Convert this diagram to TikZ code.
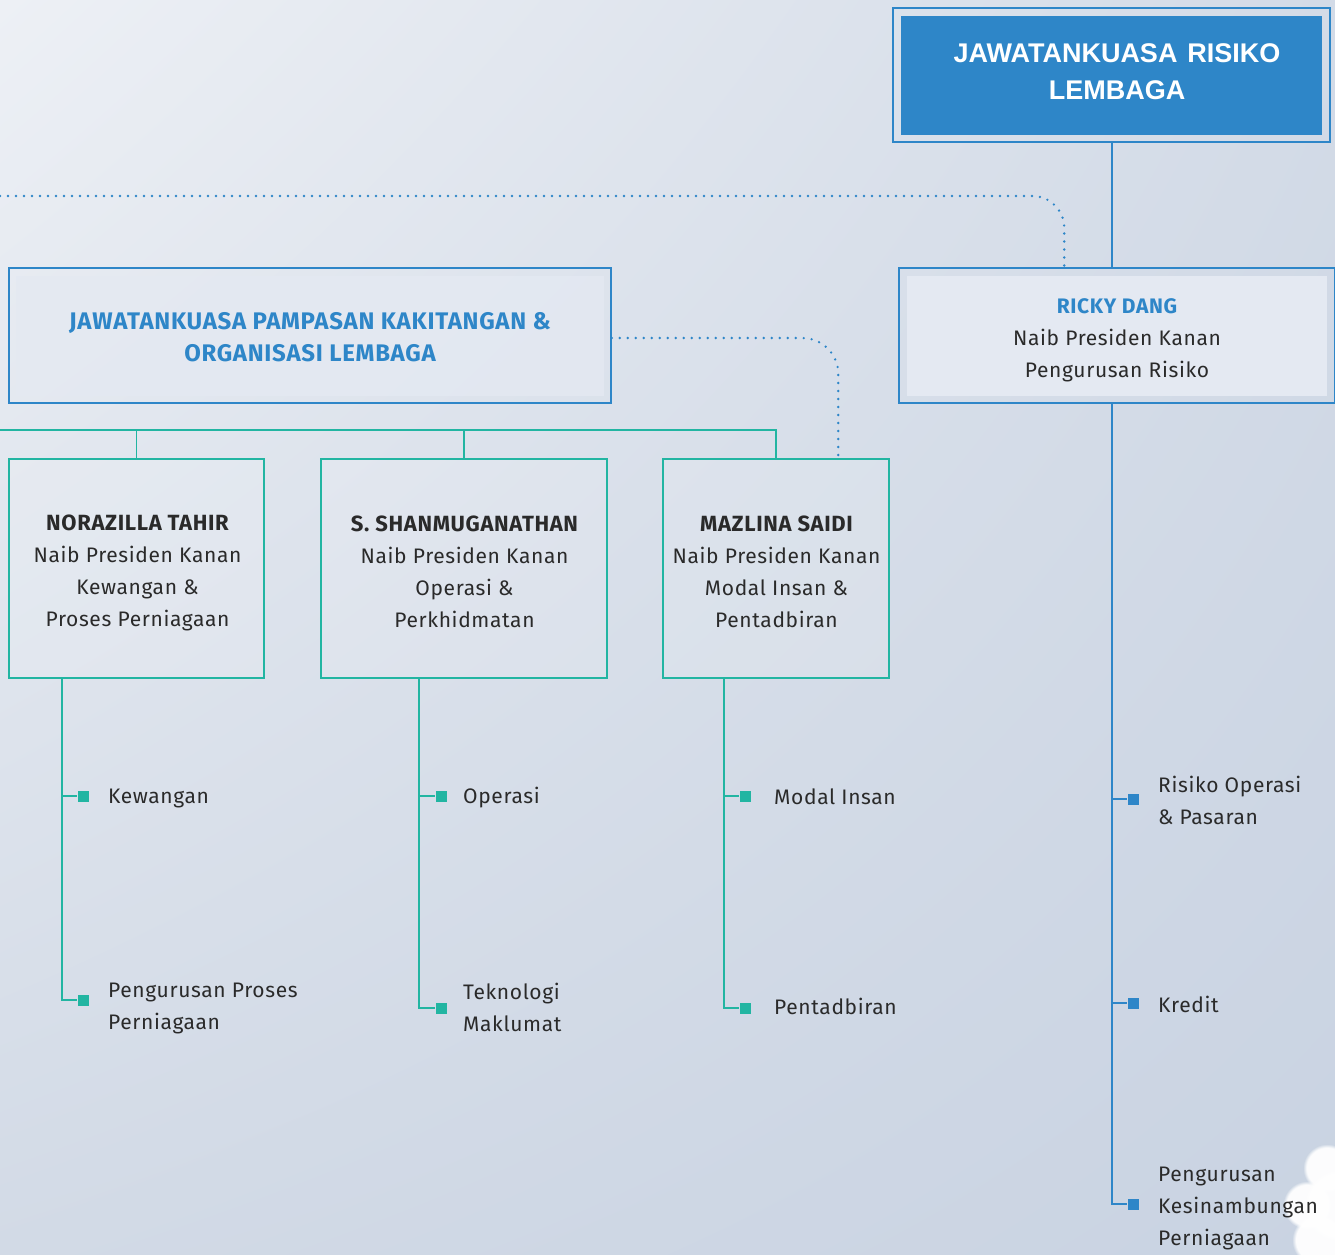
\documentclass[tikz,border=0pt]{standalone}
\usepackage{fontspec}
\usetikzlibrary{shadings,fadings}
\setmainfont{Fira Sans}[LetterSpace=3]
\newfontfamily\hdr{Liberation Sans}
\definecolor{rblue}{HTML}{2E86C8}
\definecolor{rteal}{HTML}{22B5A2}
\definecolor{rtext}{HTML}{2A2A2A}
\definecolor{innerfill}{HTML}{E4E9F2}
\definecolor{bgA}{HTML}{EDF0F5}
\definecolor{bgB}{HTML}{D3DBE7}
\definecolor{bgC}{HTML}{D2DAE6}
\definecolor{bgD}{HTML}{C9D3E2}
\tikzset{
  outerframe/.style={draw=rblue, line width=1.5pt, inner sep=0pt},
  innerbox/.style={inner sep=0pt, align=center},
  tealbox/.style={draw=rteal, line width=1.5pt, fill=white, fill opacity=0.12, text opacity=1, inner sep=0pt, align=center, text=rtext, font=\fontsize{21}{32}\selectfont},
  boxtext/.style={inner sep=0pt, align=center, text=rtext, font=\fontsize{21}{32}\selectfont},
  blueline/.style={draw=rblue, line width=1.6pt},
  tealline/.style={draw=rteal, line width=1.6pt},
  dotline/.style={draw=rblue, line width=2.6pt, line cap=round, dash pattern=on 0pt off 8pt},
  tbul/.style={fill=rteal, minimum size=11pt, inner sep=0pt},
  bbul/.style={fill=rblue, minimum size=11pt, inner sep=0pt},
  itemtext/.style={anchor=west, inner sep=0pt, align=left, text=rtext, font=\fontsize{21}{32}\selectfont},
  puff/.style={fill=white, path fading=circle with fuzzy edge 15 percent, opacity=0.95},
}
\newcommand{\pname}[1]{{\fontsize{22}{32}\selectfont\bfseries #1}}
\begin{document}
\begin{tikzpicture}[x=1pt,y=-1pt]
\useasboundingbox (0,0) rectangle (1335,1254);
\shade[upper left=bgA, upper right=bgB, lower left=bgC, lower right=bgD] (0,0) rectangle (1335,1254);
% cloud
\begin{scope}
\clip (0,0) rectangle (1335,1254);
\fill[puff] (1327,1168) circle (24pt);
\fill[puff] (1307,1205) circle (24pt);
\fill[puff] (1340,1205) circle (36pt);
\fill[puff] (1318,1240) circle (26pt);
\end{scope}

% top box
\node[outerframe, minimum width=437pt, minimum height=134pt] (jrl) at (1111.5,75) {};
\node[innerbox, fill=rblue, minimum width=421pt, minimum height=119pt] (jrlin) at (1111.5,75.5) {};
\node[innerbox, text=white, font=\hdr\bfseries\fontsize{27}{37}\selectfont] (jrltxt) at (1117,71.5) {JAWATANKUASA\hspace{10pt}RISIKO\\LEMBAGA};

% Ricky box
\node[outerframe, minimum width=436pt, minimum height=135pt] (ricky) at (1117,335.5) {};
\node[innerbox, fill=innerfill, minimum width=420pt, minimum height=120pt] (rickyin) at (1117,336) {};
\node[boxtext] (rickytxt) at (1117,340) {\textcolor{rblue}{\bfseries RICKY DANG}\\Naib Presiden Kanan\\Pengurusan Risiko};

% left committee box
\node[outerframe, minimum width=602pt, minimum height=135pt] (lbox) at (310,335.5) {};
\node[innerbox, fill=innerfill, fill opacity=0.8, minimum width=588pt, minimum height=120pt] (lboxin) at (310,336) {};
\node[innerbox, text=rblue, font=\bfseries\fontsize{24}{32}\selectfont] (lboxtxt) at (310,337) {JAWATANKUASA PAMPASAN KAKITANGAN \&\\ORGANISASI LEMBAGA};

% teal boxes
\node[tealbox, minimum width=255pt, minimum height=219pt] (box1) at (136.5,568.5) {};
\node[tealbox, minimum width=286pt, minimum height=219pt] (box2) at (464,568.5) {};
\node[tealbox, minimum width=226pt, minimum height=219pt] (box3) at (776,568.5) {};
\node[boxtext] (box1txt) at (137.5,573) {\pname{NORAZILLA TAHIR}\\Naib Presiden Kanan\\Kewangan \&\\Proses Perniagaan};
\node[boxtext] (box2txt) at (464.5,571.5) {\pname{S. SHANMUGANATHAN}\\Naib Presiden Kanan\\Operasi \&\\Perkhidmatan};
\node[boxtext] (box3txt) at (776.5,571.5) {\pname{MAZLINA SAIDI}\\Naib Presiden Kanan\\Modal Insan \&\\Pentadbiran};

% connectors top
\draw[blueline] ([xshift=214pt]ricky.north west |- jrl.south) -- ([xshift=214pt]ricky.north west);
\coordinate (dl) at (0,196);
\draw[dotline, rounded corners=32pt] (dl) -- ([xshift=166pt]ricky.north west |- dl) -- ([xshift=166pt]ricky.north west);
\draw[dotline, rounded corners=36pt] ([yshift=-2.5pt]lbox.east) -- ([xshift=176pt,yshift=-2.5pt]box3.north west |- lbox.east) -- ([xshift=176pt]box3.north west);

% teal bus
\coordinate (busL) at (0,430);
\draw[tealline] (busL) -- (busL -| box3.north) -- (box3.north);
\draw[tealline] (busL -| box1.north) -- (box1.north);
\draw[tealline] (busL -| box2.north) -- (box2.north);

% branch 1
\node[tbul] (b1a) at (83,796) {};
\node[tbul] (b1b) at (83,1000) {};
\draw[tealline] ([xshift=54pt]box1.south west) |- (b1b.west);
\draw[tealline] ([xshift=54pt]box1.south west |- b1a) -- (b1a.west);
\node[itemtext] (t1a) at (108,798) {Kewangan};
\node[itemtext] (t1b) at (108,1008) {Pengurusan Proses\\Perniagaan};

% branch 2
\node[tbul] (b2a) at (441,796) {};
\node[tbul] (b2b) at (441,1008) {};
\draw[tealline] ([xshift=99pt]box2.south west) |- (b2b.west);
\draw[tealline] ([xshift=99pt]box2.south west |- b2a) -- (b2a.west);
\node[itemtext] (t2a) at (463,798) {Operasi};
\node[itemtext] (t2b) at (463,1007) {Teknologi\\Maklumat};

% branch 3
\node[tbul] (b3a) at (745,796) {};
\node[tbul] (b3b) at (745,1008) {};
\draw[tealline] ([xshift=62pt]box3.south west) |- (b3b.west);
\draw[tealline] ([xshift=62pt]box3.south west |- b3a) -- (b3a.west);
\node[itemtext] (t3a) at (774,797) {Modal Insan};
\node[itemtext] (t3b) at (774,1006) {Pentadbiran};

% ricky branch
\node[bbul] (r1) at (1133,799) {};
\node[bbul] (r2) at (1133,1003) {};
\node[bbul] (r3) at (1133,1204) {};
\draw[blueline] ([xshift=214pt]ricky.south west) |- (r3.west);
\draw[blueline] ([xshift=214pt]ricky.south west |- r1) -- (r1.west);
\draw[blueline] ([xshift=214pt]ricky.south west |- r2) -- (r2.west);
\node[itemtext] (tr1) at (1158,800) {Risiko Operasi\\\& Pasaran};
\node[itemtext] (tr2) at (1158,1004) {Kredit};
\node[itemtext] (tr3) at (1158,1208) {Pengurusan\\Kesinambungan\\Perniagaan};
\end{tikzpicture}
\end{document}
